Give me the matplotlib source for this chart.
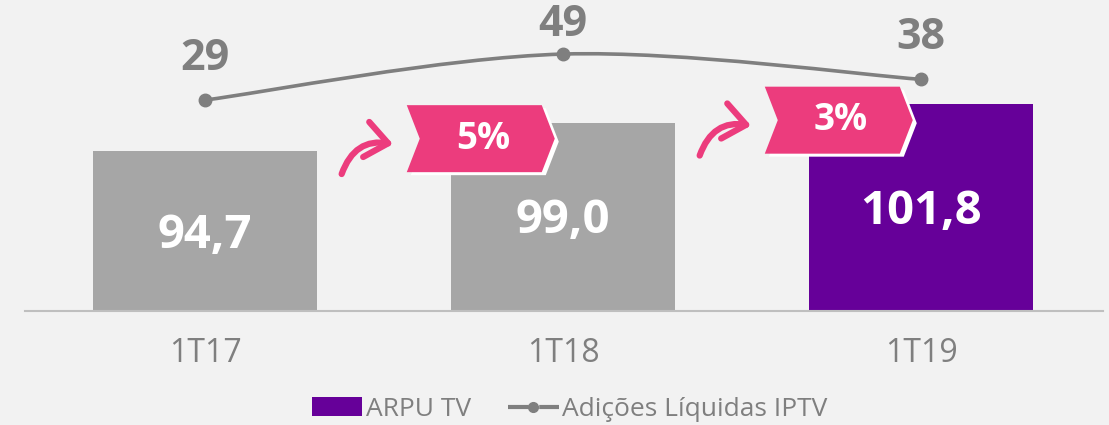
import numpy as np
import matplotlib
matplotlib.use('Agg')
import matplotlib.pyplot as plt
from matplotlib.patches import Polygon, FancyArrowPatch, Patch, PathPatch
from matplotlib.lines import Line2D
from matplotlib.path import Path
from matplotlib.transforms import IdentityTransform

plt.rcParams['font.family'] = ['Open Sans', 'DejaVu Sans']

periods = ['1T17', '1T18', '1T19']
arpu_tv = [94.7, 99.0, 101.8]
iptv_adds = [29, 49, 38]
growth = ['5%', '3%']

grey = '#7f7f7f'
pink = '#ec3c7d'
purple = '#660099'

W, H = 1109, 425
fig = plt.figure(figsize=(W / 100, H / 100), dpi=100, facecolor='#f2f2f2')
ax = fig.add_axes([25 / W, (H - 311) / H, (1103 - 25) / W, 311 / H])
ax.set_facecolor('none')

ylo = 70.5
x = np.arange(len(periods))
bar_colors = ['#a6a6a6', '#a6a6a6', purple]
ax.bar(x, arpu_tv, width=0.626, color=bar_colors, zorder=2)
ax.set_xlim(-0.503, 2.508)
ax.set_ylim(ylo, 117.6)

for i, v in enumerate(arpu_tv):
    ax.text(i, (ylo + v) / 2 - 0.6, f'{v:.1f}'.replace('.', ','), ha='center', va='center',
            color='white', fontsize=34, fontweight='bold', zorder=3)

ax.set_xticks(x)
ax.set_xticklabels(periods, color=grey, fontsize=23)
ax.tick_params(axis='x', length=0, pad=19)
ax.set_yticks([])
for s in ['top', 'left', 'right']:
    ax.spines[s].set_visible(False)
ax.spines['bottom'].set_color('#bfbfbf')
ax.spines['bottom'].set_linewidth(1.5)

# line on secondary axis
ax2 = ax.twinx()
ax2.set_ylim(-62.7, 72.5)
ax2.set_yticks([])
for s in ax2.spines.values():
    s.set_visible(False)

pts = np.column_stack([x, iptv_adds]).astype(float)
n = len(pts)
verts = [pts[0]]
codes = [Path.MOVETO]
for i in range(n - 1):
    p_prev = pts[max(i - 1, 0)]
    p_next = pts[min(i + 2, n - 1)]
    c1 = pts[i] + (pts[i + 1] - p_prev) / 6
    c2 = pts[i + 1] - (p_next - pts[i]) / 6
    verts += [c1, c2, pts[i + 1]]
    codes += [Path.CURVE4] * 3
ax2.add_patch(PathPatch(Path(verts, codes), facecolor='none', edgecolor=grey, lw=2.6, zorder=4))
ax2.plot(x, iptv_adds, 'o', color=grey, ms=9, zorder=5)

label_off = [30, 21, 30]
for i, v in enumerate(iptv_adds):
    ax2.annotate(str(v), (i, v), xytext=(0, label_off[i]), textcoords='offset points',
                 ha='center', va='center', color=grey, fontsize=31, fontweight='bold')

# growth banners with curved arrows
bw, bh, notch = 148, 67, 13
for i, g in enumerate(growth):
    cx, cy = ax.transData.transform((i + 0.77, arpu_tv[i + 1] - 2.4))
    L, R, T, B = cx - bw / 2, cx + bw / 2, cy + bh / 2, cy - bh / 2
    shape = np.array([(L, T), (R - notch, T), (R, cy), (R - notch, B), (L, B), (L + notch, cy)])
    fig.add_artist(Polygon(shape + [4, -3], closed=True, facecolor='white', edgecolor='none',
                           transform=IdentityTransform(), zorder=6))
    fig.add_artist(Polygon(shape, closed=True, facecolor=pink, edgecolor='none',
                           transform=IdentityTransform(), zorder=7))
    fig.text(cx / W + 2 / W, cy / H, g, ha='center', va='center', color='white',
             fontsize=26.5, fontweight='bold', zorder=8)
    arr = FancyArrowPatch((cx - 140, cy - 38), (cx - 85, cy - 6), transform=IdentityTransform(),
                          connectionstyle='arc3,rad=-0.45',
                          arrowstyle='->,head_length=0.5,head_width=0.4',
                          mutation_scale=32, lw=4.5, color=pink, capstyle='round',
                          joinstyle='round', zorder=7)
    fig.add_artist(arr)

handles = [Patch(facecolor=purple, edgecolor='none'),
           Line2D([], [], color=grey, lw=3, marker='o', ms=7, dashes=(5, 2.5))]
fig.legend(handles, ['ARPU TV', 'Adições Líquidas IPTV'], loc='center',
           bbox_to_anchor=(0.514, 0.037), ncol=2, frameon=False, fontsize=19,
           labelcolor=grey, handlelength=1.9, handletextpad=0.15, columnspacing=1.4)

fig.savefig('out.png', dpi=100, facecolor=fig.get_facecolor())
